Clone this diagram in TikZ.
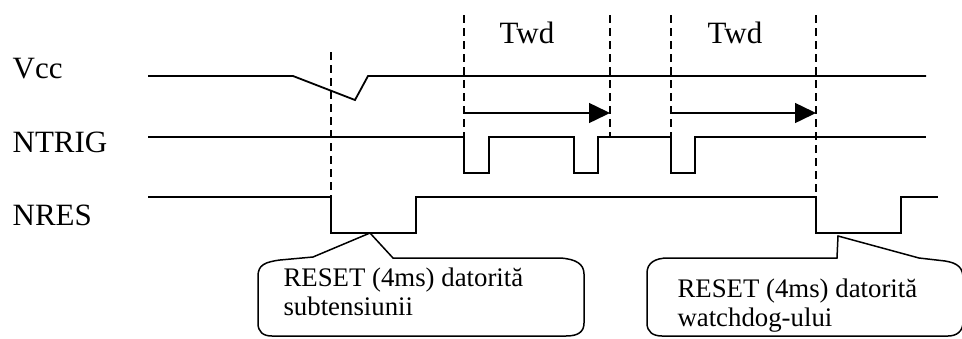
\documentclass[tikz,border=0pt]{standalone}
\usepackage{fontspec}
\setmainfont{Liberation Serif}
\usetikzlibrary{arrows.meta}
\tikzset{
  sig/.style={line width=1.8pt, line join=miter},
  guide/.style={line width=1.4pt, dash pattern=on 8pt off 5pt},
  lbl/.style={inner sep=0pt, anchor=base west, font=\fontsize{10}{12}\selectfont, scale=3.1},
  ctxt/.style={inner sep=0pt, anchor=base west, font=\fontsize{10}{12}\selectfont, scale=2.68},
  callout/.style={line width=1.5pt, line join=miter},
  span/.style={line width=1.5pt, -{Triangle[length=21pt,width=20pt]}}
}
\begin{document}
\begin{tikzpicture}[x=1pt,y=-1pt]
\useasboundingbox (0,0) rectangle (962,338);
% labels
\node[lbl] (vcc) at (12,78) {Vcc};
\node[lbl] (ntrig) at (12,152) {NTRIG};
\node[lbl] (nres) at (12,225) {NRES};
\node[lbl] (twd1) at (499,43) {Twd};
\node[lbl] (twd2) at (707,43) {Twd};
% guide coordinates
\coordinate (g1t) at (331,52);  \coordinate (g1b) at (331,197);
\coordinate (g2t) at (464,15);  \coordinate (g2b) at (464,137);
\coordinate (g3t) at (610,15);  \coordinate (g3b) at (610,137);
\coordinate (g4t) at (671,15);  \coordinate (g4b) at (671,137);
\coordinate (g5t) at (816,15);  \coordinate (g5b) at (816,197);
\foreach \i in {1,...,5} \draw[guide] (g\i t) -- (g\i b);
% Vcc
\draw[sig] (148,76) -- (293,76) -- (355,100) -- (368,76) -- (926,76);
% NTRIG
\draw[sig] (148,137) -- (464,137) -- (464,173) -- (489,173) -- (489,137)
  -- (574,137) -- (574,173) -- (598,173) -- (598,137)
  -- (671,137) -- (671,173) -- (695,173) -- (695,137) -- (926,137);
% NRES
\draw[sig] (148,197) -- (331,197) -- (331,233) -- (416,233) -- (416,197)
  -- (816,197) -- (816,233) -- (901,233) -- (901,197) -- (938,197);
% Twd arrows
\coordinate (a1s) at (464,113); \coordinate (a1e) at (610,113);
\coordinate (a2s) at (671,113); \coordinate (a2e) at (816,113);
\draw[span] (a1s) -- (a1e);
\draw[span] (a2s) -- (a2e);
% callout 1
\coordinate (c1tip) at (370,233);
\draw[callout] (313,257) -- (c1tip) -- (393,258) -- (560,258)
  .. controls (576,259) and (584,264) .. (584,274) -- (584,323)
  .. controls (584,332) and (578,336) .. (566,336) -- (272,336)
  .. controls (263,336) and (258,332) .. (258,323) -- (258,276)
  .. controls (258,265) and (265,262) .. (280,260) -- cycle;
\node[ctxt] (c1a) at (283,286) {RESET (4ms) datorită};
\node[ctxt] (c1b) at (283,315) {subtensiunii};
% callout 2
\coordinate (c2tip) at (838,236);
\draw[callout] (837,258) -- (c2tip) -- (919,258) -- (945,261)
  .. controls (958,263) and (963,268) .. (963,278) -- (963,322)
  .. controls (963,331) and (957,336) .. (948,336) -- (662,336)
  .. controls (653,336) and (647,332) .. (647,323) -- (647,273)
  .. controls (647,263) and (655,258) .. (668,258) -- cycle;
\node[ctxt] (c2a) at (677,297) {RESET (4ms) datorită};
\node[ctxt] (c2b) at (677,326) {watchdog-ului};
\end{tikzpicture}
\end{document}
